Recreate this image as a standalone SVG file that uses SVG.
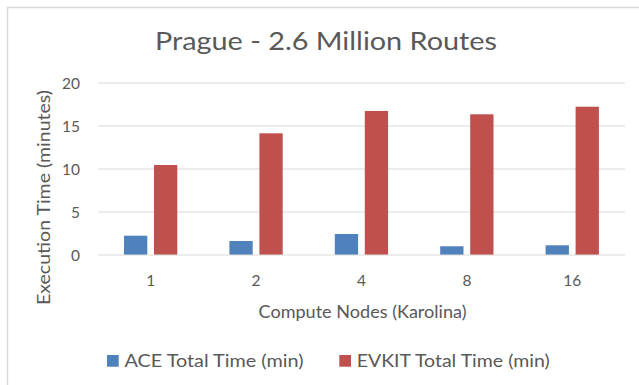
<svg xmlns="http://www.w3.org/2000/svg" width="639" height="385" viewBox="0 0 639 385">
<style>
text{font-family:Lato,"Liberation Sans",sans-serif;fill:#595959}
.tick{font-size:15.5px}
.axt{font-size:17.5px}
.grid{stroke:#d9d9d9;stroke-width:1}
.ace{fill:#4f81bd}
.ev{fill:#c0504d}
</style>
<rect x="0" y="0" width="639" height="385" fill="#ffffff"/>
<rect x="7.5" y="7.5" width="700" height="500" fill="#ffffff" stroke="#d9d9d9" stroke-width="1.5"/>
<g id="title"><text x="326" y="50" font-size="25.5" text-anchor="middle" textLength="342" lengthAdjust="spacingAndGlyphs">Prague - 2.6 Million Routes</text></g>
<g id="grid">
<line class="grid" x1="98" y1="83" x2="625" y2="83"/>
<line class="grid" x1="98" y1="126" x2="625" y2="126"/>
<line class="grid" x1="98" y1="169" x2="625" y2="169"/>
<line class="grid" x1="98" y1="212" x2="625" y2="212"/>
</g>
<g id="yticks" class="tick" text-anchor="end">
<text class="tick" x="80" y="88.5">20</text>
<text class="tick" x="80" y="131.5">15</text>
<text class="tick" x="80" y="174.5">10</text>
<text class="tick" x="80" y="217.5">5</text>
<text class="tick" x="80" y="260.5">0</text>
</g>
<g id="ytitle"><text class="axt" transform="translate(49.5,197.5) rotate(-90)" text-anchor="middle" textLength="215" lengthAdjust="spacingAndGlyphs">Execution Time (minutes)</text></g>
<g id="bars">
<rect class="ace" x="124" y="235.7" width="23.3" height="19.3"/>
<rect class="ev" x="154" y="165" width="23.3" height="90"/>
<rect class="ace" x="229.4" y="241" width="23.3" height="14"/>
<rect class="ev" x="259.4" y="133.3" width="23.3" height="121.7"/>
<rect class="ace" x="334.8" y="234" width="23.3" height="21"/>
<rect class="ev" x="364.8" y="111" width="23.3" height="144"/>
<rect class="ace" x="440.2" y="246.3" width="23.3" height="8.7"/>
<rect class="ev" x="470.2" y="114.3" width="23.3" height="140.7"/>
<rect class="ace" x="545.6" y="245.3" width="23.3" height="9.7"/>
<rect class="ev" x="575.6" y="106.7" width="23.3" height="148.3"/>
</g>
<line class="grid" x1="98" y1="255" x2="625" y2="255"/>
<g id="xticks" text-anchor="middle">
<text class="tick" x="150.7" y="285.7">1</text>
<text class="tick" x="256.1" y="285.7">2</text>
<text class="tick" x="361.5" y="285.7">4</text>
<text class="tick" x="466.9" y="285.7">8</text>
<text class="tick" x="572.3" y="285.7">16</text>
</g>
<g id="xtitle"><text class="axt" x="362.5" y="317.7" text-anchor="middle" textLength="208" lengthAdjust="spacingAndGlyphs">Compute Nodes (Karolina)</text></g>
<g id="legend">
<rect class="ace" x="107" y="355" width="11.7" height="11.7"/>
<text class="axt" x="124.5" y="366.7" textLength="179" lengthAdjust="spacingAndGlyphs">ACE Total Time (min)</text>
<rect class="ev" x="339.3" y="355" width="11.7" height="11.7"/>
<text class="axt" x="356.7" y="366.7" textLength="193" lengthAdjust="spacingAndGlyphs">EVKIT Total Time (min)</text>
</g>
</svg>
